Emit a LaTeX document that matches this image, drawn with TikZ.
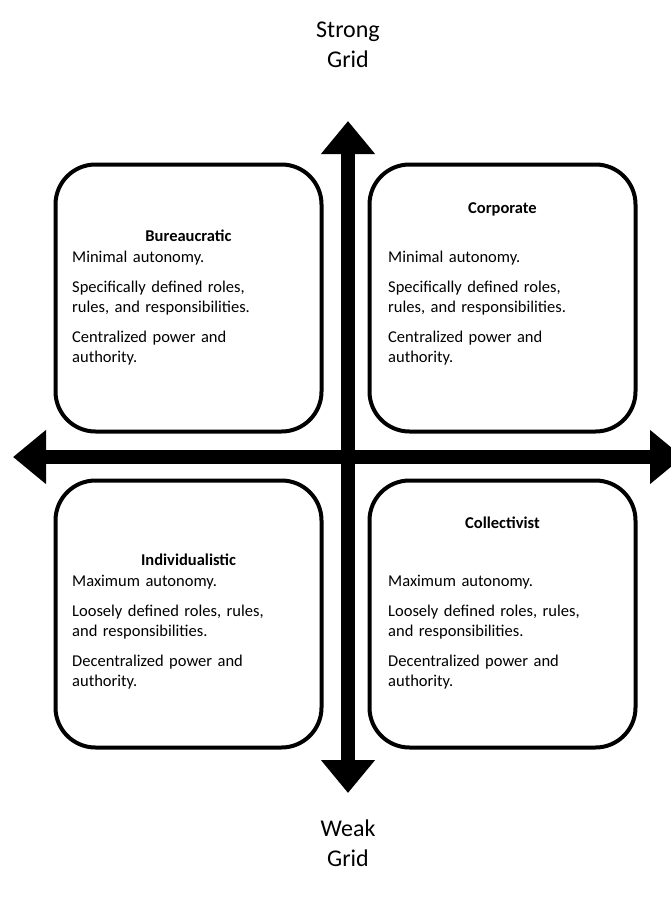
\documentclass[tikz,border=0pt]{standalone}
\usepackage{fontspec}
\setmainfont{Carlito}
\usetikzlibrary{arrows.meta}
\begin{document}
\begin{tikzpicture}[x=1pt,y=-1pt,
  quad/.style={draw, line width=4pt, rounded corners=40pt, minimum width=266pt, minimum height=267pt, inner sep=0pt},
  ttl/.style={font=\fontsize{16.5}{20}\selectfont\bfseries, anchor=base, inner sep=0pt},
  body/.style={font=\fontsize{16.5}{20}\selectfont, align=left, anchor=base west, inner sep=0pt, text width=245pt},
  axis/.style={line width=14pt, {Triangle[width=52pt,length=33pt]}-{Triangle[width=52pt,length=33pt]}},
  lbl/.style={font=\fontsize{24}{30}\selectfont, align=center, inner sep=0pt}
]
\useasboundingbox (0,0) rectangle (671,900);
% axes
\coordinate (top) at (348,121);
\coordinate (bot) at (348,793);
\coordinate (lft) at (13,457);
\coordinate (rgt) at (683,457);
\draw[axis] (bot) -- (top);
\draw[axis] (lft) -- (rgt);
% boxes
\node[quad] (tl) at (188.5,298) {};
\node[quad] (tr) at (502.5,298) {};
\node[quad] (bl) at (188.5,614) {};
\node[quad] (br) at (502.5,614) {};
% titles
\node[ttl] (tlt) at (188.5,241) {Bureaucratic};
\node[ttl] (trt) at (502.5,213) {Corporate};
\node[ttl] (blt) at (188.5,565) {Individualistic};
\node[ttl] (brt) at (502.5,528) {Collectivist};
% bodies
\node[body] (tlb) at (72,262) {Minimal autonomy.\\[10pt]Specifically defined roles,\\rules, and responsibilities.\\[10pt]Centralized power and\\authority.};
\node[body] (trb) at (388,262) {Minimal autonomy.\\[10pt]Specifically defined roles,\\rules, and responsibilities.\\[10pt]Centralized power and\\authority.};
\node[body] (blb) at (72,586) {Maximum autonomy.\\[10pt]Loosely defined roles, rules,\\and responsibilities.\\[10pt]Decentralized power and\\authority.};
\node[body] (brb) at (388,586) {Maximum autonomy.\\[10pt]Loosely defined roles, rules,\\and responsibilities.\\[10pt]Decentralized power and\\authority.};
% labels
\node[lbl] (strong) at (348,45) {Strong\\Grid};
\node[lbl] (weak) at (348,843) {Weak\\Grid};
\end{tikzpicture}
\end{document}
